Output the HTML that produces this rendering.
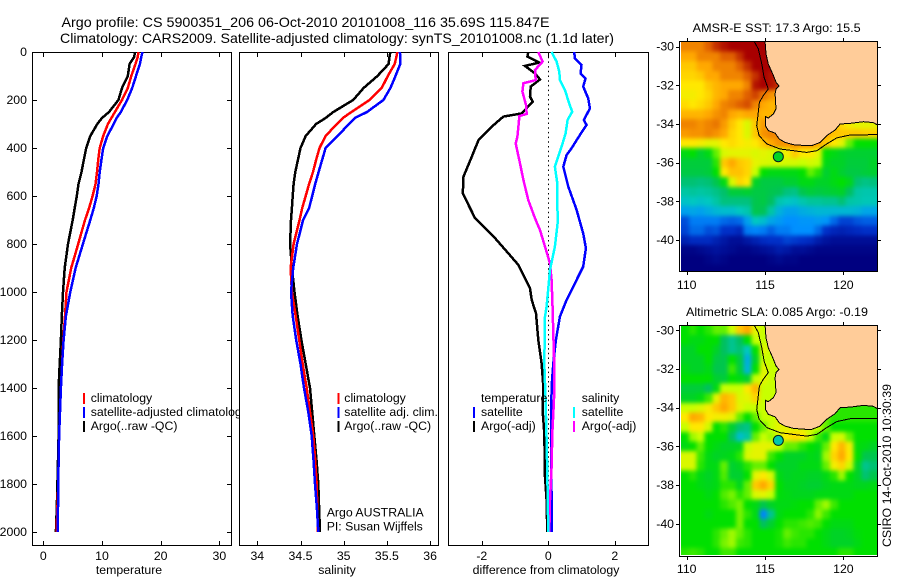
<!DOCTYPE html>
<html>
<head>
<meta charset="utf-8">
<title>Argo profile</title>
<style>
html,body{margin:0;padding:0;background:#fff;}
svg{display:block;font-family:"Liberation Sans",sans-serif;}
text{fill:#000;}
</style>
</head>
<body>
<svg id="chart" xmlns="http://www.w3.org/2000/svg" width="900" height="580" viewBox="0 0 900 580">
<defs>
<clipPath id="clip-sst"><rect x="681" y="42" width="197" height="229"/></clipPath>
<clipPath id="clip-sla"><rect x="681" y="326" width="197" height="229"/></clipPath>
<filter id="soften" filterUnits="userSpaceOnUse" x="650" y="20" width="250" height="560" color-interpolation-filters="sRGB"><feGaussianBlur stdDeviation="2.1"/></filter>
</defs>
</svg>
<script>
// ---------- shared depth data ----------
const depthTicks = [0,200,400,600,800,1000,1200,1400,1600,1800,2000];
const depthLevels = [0,20,50,100,150,200,250,275,300,350,400,450,500,550,600,650,700,800,900,1000,1100,1200,1300,1400,1500,1600,1700,1800,1900,2000];

// ---------- temperature panel ----------
const tempTicks = [0,10,20,30];
const tempClim = [16.2,16.1,15.7,15.0,14.4,13.4,12.2,11.6,11.0,10.2,9.6,9.35,9.15,8.9,8.4,7.8,7.1,5.95,4.75,3.95,3.7,3.4,3.2,3.0,2.85,2.7,2.6,2.55,2.4,2.25];
const tempSat = [16.9,16.7,16.45,15.8,15.15,14.3,13.2,12.5,12.0,10.9,10.2,9.9,9.6,9.4,9.1,8.6,8.0,6.75,5.5,4.6,3.85,3.45,3.2,3.0,2.85,2.7,2.6,2.55,2.5,2.45];
const tempArgo = [15.6,15.5,14.7,14.4,13.4,12.8,11.2,10.0,9.2,8.0,7.3,6.9,6.5,6.0,5.7,5.35,5.0,4.2,3.65,3.35,3.15,3.0,2.8,2.6,2.6,2.6,2.5,2.4,2.3,2.15];

// ---------- salinity panel ----------
const salTicks = [34,34.5,35,35.5,36];
const salClim = [35.62,35.61,35.59,35.51,35.44,35.3,35.09,34.99,34.92,34.79,34.72,34.68,34.645,34.6,34.56,34.52,34.49,34.42,34.385,34.4,34.445,34.485,34.525,34.572,34.61,34.648,34.67,34.687,34.695,34.70];
const salSat = [35.65,35.655,35.655,35.6,35.54,35.46,35.27,35.13,35.06,34.93,34.79,34.75,34.71,34.67,34.635,34.6,34.53,34.46,34.415,34.39,34.41,34.45,34.5,34.54,34.59,34.63,34.65,34.668,34.69,34.706];
const salArgo = [35.54,35.53,35.52,35.39,35.23,35.11,34.88,34.79,34.68,34.56,34.5,34.47,34.44,34.42,34.41,34.4,34.39,34.38,34.4,34.43,34.467,34.51,34.56,34.61,34.635,34.66,34.685,34.706,34.715,34.726];

// ---------- difference panel ----------
const diffTicks = [-2,0,2];
const diffTempSatDepth = [0,26,54,89,110,144,193,235,283,304,346,401,429,478,561,658,756,818,894,978,1033,1103,1200,1297,1394,1617,1867,2000];
const diffTempSat = [0.78,0.8,1.0,0.97,1.12,1.05,1.2,1.25,1.07,1.15,0.95,0.7,0.55,0.45,0.6,0.85,1.05,1.13,1.05,0.75,0.55,0.35,0.23,0.15,0.1,0.08,0.1,0.1];
const diffTempArgoDepth = [0,19,44,58,89,114,144,186,207,256,269,311,367,436,519,589,693,776,887,985,1033,1089,1200,1297,1394,1492,1590,1770,1867,2000];
const diffTempArgo = [-0.6,-0.63,-0.27,-0.7,-0.4,-0.25,-0.53,-0.55,-0.47,-0.8,-1.35,-1.7,-2.1,-2.3,-2.55,-2.57,-2.2,-1.6,-0.9,-0.55,-0.5,-0.37,-0.3,-0.2,-0.15,-0.17,-0.12,-0.1,-0.05,-0.03];
const diffSalSatDepth = [0,40,82,117,158,214,249,283,339,394,478,547,714,811,908,1061,1103,1214,1297,1450,1617,1756,2000];
const diffSalSat = [0.1,0.25,0.33,0.35,0.5,0.63,0.72,0.58,0.52,0.4,0.2,0.27,0.28,0.2,0.05,-0.05,-0.1,-0.11,-0.12,-0.08,-0.05,-0.03,0.0];
const diffSalArgoDepth = [0,40,75,117,130,165,221,258,267,311,353,381,464,533,617,693,742,811,881,950,1068,1172,1311,1450,1589,1728,1867,2000];
const diffSalArgo = [-0.3,-0.17,-0.4,-0.38,-0.75,-0.78,-0.67,-0.65,-0.87,-0.9,-0.93,-0.98,-0.85,-0.75,-0.6,-0.4,-0.25,-0.1,0.05,0.1,0.13,0.15,0.18,0.17,0.12,0.1,0.05,0.03];

// ---------- map data (values are colour-scale levels, 0 navy .. 10 dark red) ----------
const lonTicks = [110,115,120];
const latTicks = [30,32,34,36,38,40];
const sstLevels = [
[8.5,8.5,8.5,9,9.5,9.8,10,10,10,10,10,10,10],
[8,8,8.5,8.5,8.5,9,9,9.5,10,10,10,10,10],
[7.5,7.5,8,8,8.5,8.5,8.5,9,9.5,10,10,10,10],
[7.3,7.3,7.5,8,8,8.5,8.5,8.5,9,9.5,10,9.8,9.5],
[7,7,7,7.5,7.8,8,8,8,8.5,9.8,10,9.8,9.5],
[6.8,6.8,7,7.3,7.8,8,8.5,8.5,9,9.3,8.7,8.3,8],
[7.2,7,7.2,7.5,8,8.5,8.7,9,9.2,8.5,8,7.8,7.8],
[7.8,7.8,7.8,8,8.3,8.5,8,7.8,8,8,7.8,7.8,7.8],
[8.5,8.5,8.3,8.5,8.7,8.2,7.5,7,6.3,7.5,8.2,8,8,8,8,8,8,8,8,8,7.2,6.8,6.5,6.5,6.5],
[8.2,8.3,8.3,8.5,8.3,8,7.3,7,6.3,7.5,8.3,8.5,8.5,8.5,8.5,8.5,8.5,8,8,7.6,7.5,7.5,7.5,7.4,7.4],
[7,7,6.8,6.5,6.5,7,7.2,7,6.8,7,7.5,8,8.3,8.3,8.3,8.3,8.3,8,7.5,7,6.5,5.5,5,5,5],
[4.8,5,4.5,4.8,5.5,6.3,6.5,6.5,6.5,6.3,6.5,6.3,6,6.8,7.5,7,7,6.5,5,4.8,4.6,4.5,4.5,4.5,4.5],
[4.4,4.4,4.4,4.4,5.2,7.5,8,7.5,7.3,6.5,6.3,6.2,6.3,6.2,6.2,6,6.2,6,4.8,4.6,4.6,4.4,4.4,4.4,4.6],
[4.3,4.3,4.3,4.4,5,7,7.6,7.6,7.3,6,5,4.8,4.8,4.8,4.8,5,5.5,5.2,4.5,4.8,4.5,4.3,4.3,4.4,4.5],
[3.8,3.8,3.7,3.8,4.2,4.8,6.3,7.3,7,4.6,4.3,4.3,4.3,4.5,4.5,4.8,4.8,4.6,4.6,4.8,5,4.7,3.8,3.6,3.7],
[3.3,3.4,3.3,3.4,3.6,3.9,4.4,4.4,4.5,4.3,4.3,4.2,4.1,3.7,3.6,4.2,4.4,4.3,4.4,4.5,4.6,4,3.3,3.2,3.2],
[2.9,3,2.9,3,3.3,3.7,3.7,3.7,3.7,4.2,4.3,4,3.2,3,2.9,3.2,3.4,3.4,3.5,3.5,3.8,3.3,3.2,3.1,3.1],
[2.3,2.4,2.3,2.5,2.7,2.8,2.8,3,3.2,4.2,4.1,3.3,2.6,2.3,2.3,2.5,2.6,2.7,2.7,2.7,2.7,2.7,2.6,2.4,2.4],
[1.3,1.8,1.8,1.8,1.8,1.6,1.5,1.6,2.3,3,2.8,2.4,2.2,2,2,2.1,2.1,2.2,2.1,1.6,1.2,1.2,1.4,1.5,1.5],
[1.2,1.6,1.6,1.3,1.4,1,1,0.8,1.8,1.9,1.8,1.5,1.8,1.8,2,2,2,1.6,1,0.8,0.7,0.8,0.9,1,1],
[0.7,0.9,0.9,0.9,0.7,0.5,0.3,0.3,0.5,0.7,0.9,1,1,1.2,1.1,1,0.9,0.6,0.4,0.3,0.3,0.3,0.3,0.3,0.3],
[0.1,0.1,0.2,0.3,0.4,0.3,0.2,0.1,0.1,0.2,0.3,0.4,0.6,0.5,0.3,0.3,0.2,0.1,0.1,0.1,0.1,0.1,0.1,0.1,0.1],
[0,0,0,0.1,0.2,0.1,0,0,0,0,0,0.1,0.2,0.1,0.1,0,0,0,0,0,0,0,0,0,0],
[0,0,0,0,0,0,0,0,0,0,0,0,0,0,0,0,0,0,0,0,0,0,0,0,0]
];
const slaLevels = [
[5,5.2,5,5.2,5.5,5.5,6,7.5,8,6.5,6,6,6],
[5,4.8,4.8,5,5,4,3.5,4,5,6,6,6,6],
[4.6,4.6,5,5,4.6,4,3.5,3.8,3,5,6.5,6,6],
[4.6,4.6,4.6,5,4.3,4.2,5,4.3,2.5,4.6,6,6,6],
[4.8,4.6,4.6,4.8,4.2,4.2,5.3,4.4,2.6,5,6.5,6,6],
[5,5,5,5,4.5,4.4,5,4.8,4.5,6,6.5,6,6],
[4.4,4.4,4.4,4,4.8,6,6,6,7,7.8,6,6,6],
[4.6,4.6,4.8,5.3,6.5,7.8,7.5,6.3,6.5,7.3,6,6,6],
[6,6,6.3,6.8,7.5,8,7.5,6.5,6,6,6,6,6,6,6,6,6,6,5.5,5.3,5.2,5.2,5.2,5.2,5.2],
[7,8,7.8,7,6.8,6.8,6.5,5.5,5,5.5,6,6,6.3,6.3,6.3,6.3,6.3,6,5.5,5.2,5.2,5.2,5.2,5.2,5.2],
[6,7,7,6.2,5,5.2,4.5,3.8,3.6,5,5.5,6,6.5,6.5,6.5,6.5,6.2,6,5.5,5,5,5,5,5,5],
[5,5.8,6,5,5,5,4,2.8,3.3,5.5,6,5.8,6.3,7,7.2,7,6,5.3,4.8,6,6.2,5.5,5,5,5],
[4.8,5,5.5,5,4.8,4.6,4.6,4.7,6,6.5,6.5,6.5,6,5.5,5.5,5.2,5,4.8,5.5,7,7.8,6.8,4.9,4.8,4.6],
[6.3,6.3,5.3,4.8,4.6,4.7,4.8,5.2,6.3,6.5,6.5,5.3,5,4.6,4.6,4.6,4.8,4.7,5.8,7.3,8,7,5,4.2,4.2],
[6.3,6.3,5.2,4.8,4.8,5.5,4.5,4.7,5.2,5.5,5.5,5,4.6,4.6,4.6,4.8,4.8,4.8,5.5,6.8,7.3,6.2,4.6,3.5,3.8],
[5,5.2,4.8,4.6,4.8,5.4,4.5,4.5,5,6.5,7,6.3,4.8,4.6,4.7,4.7,4.6,4.6,4.8,5.2,5.8,5,4.6,3.8,4.2],
[5,5,4.8,4.7,4.8,5.2,5.2,4.7,5.5,7.5,8,7.3,5,4.7,4.7,4.6,4.5,4.5,4.7,4.8,4.8,4.8,4.7,4.7,4.8],
[5,5,5,4.8,5,5.4,5.6,5.2,5.5,6.3,6.5,6,4.9,4.8,4.7,4.7,4.7,4.8,4.8,4.8,4.8,4.8,5,5,5],
[5,5,5,5,5,5.2,5.4,5.6,5,4.8,4.2,4.6,4.8,4.8,4.9,5,5,5.5,5.8,5.3,5,5,5,5,5],
[5,5,5,4.8,5,5,5,5.6,5.2,4.8,1.9,3.5,4.8,5,5,5,5.2,5.7,5.3,5,5,5,5,5,5],
[5,5,5,5,5,5,5,5.6,5,5,4,4.5,5,5.2,5.2,5.3,5.4,5.3,5,4.8,4.8,4.8,5,5,5],
[5,5,5,5,5.2,5.5,5.8,5.5,5.2,5,5,5,5.1,5.5,5.3,5.2,5.2,5,4.8,4.6,4.6,4.7,4.9,5,5],
[5,5,5,5,5.2,5.6,5.8,5.3,5.2,5,5,5,5.1,5.3,5.2,5.2,5,5,4.8,4.6,4.6,4.6,4.8,5,5],
[5.2,5.3,5.2,5,5,5.3,5.3,5,5,5,5,5,5,5,5,5,5,5,5,5,5.2,5.2,5,5,5]
];
const coastLon = [115.0,115.06,115.21,115.49,115.7,115.89,115.7,115.64,115.7,115.53,115.21,115.02,115.02,115.21,115.64,115.91,116.28,116.81,117.66,117.98,118.51,118.94,119.47,119.79,120.43,121.28,121.91,122.25];
const coastLat = [29.75,30.38,30.9,31.41,31.84,32.03,32.19,32.45,33.22,33.48,33.69,33.62,34.09,34.34,34.47,34.78,34.95,35.07,35.12,35.12,34.95,34.6,34.31,34.0,33.97,33.88,33.93,34.09];
const isobathLon = [114.32,114.57,114.79,114.94,115.21,114.89,114.64,114.53,114.47,114.62,115.11,115.96,116.81,117.66,118.3,118.94,119.57,120.43,122.25];
const isobathLat = [29.75,30.12,30.9,31.59,32.19,32.53,32.88,33.66,34.09,34.6,35.03,35.29,35.38,35.47,35.38,35.03,34.72,34.57,34.55];
const argoLon = 115.847;
const argoLat = 35.69;
const sstArgoLevel = 4.6;
const slaArgoLevel = 3.2;
const colourStops = ['#000080','#0030c8','#0090ff','#00c8c0','#00c060','#00e000','#c8ff00','#ffe800','#ffa800','#e06000','#a80000'];

// ---------- helpers ----------
const NS = 'http://www.w3.org/2000/svg';
const svg = document.getElementById('chart');
const labelSize = 12.3;
function el(parent, tag, attrs, name) {
  const e = document.createElementNS(NS, tag);
  for (const k in attrs) e.setAttribute(k, attrs[k]);
  
  
  parent.appendChild(e);
  return e;
}
function txt(parent, x, y, s, size, name, extra) {
  const t = el(parent, 'text', Object.assign({x: x, y: y, 'font-size': size}, extra || {}), name);
  t.textContent = s;
  return t;
}
function hexRgb(h) { return [1,3,5].map(i => parseInt(h.substr(i,2),16)); }
function colour(level) {
  const v = Math.max(0, Math.min(10, level));
  const i = Math.min(9, Math.floor(v));
  const f = v - i;
  const a = hexRgb(colourStops[i]), b = hexRgb(colourStops[i+1]);
  return 'rgb(' + a.map((c,n) => Math.round(c + (b[n]-c)*f)).join(',') + ')';
}

// ---------- axis functions ----------
const yDepth = d => 52 + 0.24 * d;
const xTemp = t => 43.3 + 5.87 * t;
const xSal = s => 257.3 + 86.4 * (s - 34);
const xDiff = v => 548.3 + 33.25 * v;
const xLon = lon => 686.7 + 15.67 * (lon - 110);

function profile(g, depths, values, xf, color, name) {
  const pts = values.map((v,i) => xf(v).toFixed(1) + ',' + yDepth(depths[i]).toFixed(1)).join(' ');
  el(g, 'polyline', {points: pts, fill: 'none', stroke: color, 'stroke-width': 2.5, 'shape-rendering': 'crispEdges'}, name);
}
function panel(name, x0, x1, ticks, xf, yTicksSide, xTitle, titleX) {
  const g = el(svg, 'g', {}, name);
  el(g, 'rect', {x: x0 + .5, y: 52.5, width: x1 - x0, height: 493, fill: '#fff', stroke: '#000', 'stroke-width': 1, 'shape-rendering': 'crispEdges'}, name + '-frame');
  ticks.forEach(t => {
    const x = Math.round(xf(t)) + .5;
    el(g, 'line', {x1: x, x2: x, y1: 52, y2: 57, stroke: '#000', 'shape-rendering': 'crispEdges'}, name + '-top-tick');
    el(g, 'line', {x1: x, x2: x, y1: 541, y2: 546, stroke: '#000', 'shape-rendering': 'crispEdges'}, name + '-bottom-tick');
    txt(g, xf(t), 560, String(t), labelSize, name + '-x-tick-label', {'text-anchor': 'middle'});
  });
  txt(g, titleX, 574, xTitle, labelSize, name + '-x-axis-title', {'text-anchor': 'middle'});
  if (yTicksSide) {
    depthTicks.forEach(d => {
      const y = Math.round(yDepth(d)) + .5;
      el(g, 'line', {x1: x0, x2: x0 + 5, y1: y, y2: y, stroke: '#000', 'shape-rendering': 'crispEdges'}, name + '-left-tick');
      el(g, 'line', {x1: x1 - 4, x2: x1 + 1, y1: y, y2: y, stroke: '#000', 'shape-rendering': 'crispEdges'}, name + '-right-tick');
      txt(g, 27, yDepth(d) + 4, String(d), labelSize, name + '-y-tick-label', {'text-anchor': 'end'});
    });
  }
  return g;
}
function legend(g, x, tx, rows, prefix) {
  const ys = [393, 407, 421];
  rows.forEach((r,i) => {
    if (r.color) el(g, 'rect', {x: x, y: ys[i], width: 2, height: 11, fill: r.color}, prefix + '-legend-swatch');
    txt(g, tx, ys[i] + 9, r.label, labelSize, prefix + '-legend-entry');
  });
}
function map(name, clipId, top, bottom, base, grid, argoLevel, title, titleX, titleW, titleY, labelY) {
  const latY = lat => base + 19.35 * (lat - 30);
  const g = el(svg, 'g', {}, name);
  const clip = el(g, 'g', {'clip-path': 'url(#' + clipId + ')'}, name + '-heatmap-clip');
  const cells = el(clip, 'g', {filter: 'url(#soften)'}, name + '-heatmap');
  grid.forEach((row, j) => {
    row.forEach((v, i) => {
      const lon = 109.64 + 0.5 * i, lat = 29.75 + 0.5 * j;
      let x = xLon(lon), y = latY(lat), w = 8.3, h = 10.1;
      // outer cells run past the frame so softening does not fade at the edges
      if (i === 0) { x -= 12; w += 12; }
      if (i === row.length - 1) { w += 130; }
      if (j === 0) { y -= 12; h += 12; }
      if (j === grid.length - 1) { h += 14; }
      el(cells, 'rect', {x: x.toFixed(2), y: y.toFixed(2), width: w, height: h, fill: colour(v), 'shape-rendering': 'crispEdges'}, name + '-cell');
    });
  });
  const clipped = el(g, 'g', {'clip-path': 'url(#' + clipId + ')'}, name + '-geography');
  const coastPts = coastLon.map((l,i) => xLon(l).toFixed(1) + ',' + latY(coastLat[i]).toFixed(1)).join(' ');
  el(clipped, 'polygon', {points: coastPts + ' ' + xLon(122.25).toFixed(1) + ',' + latY(29.75).toFixed(1), fill: '#ffcc99', stroke: 'none'}, name + '-land');
  el(clipped, 'polyline', {points: coastPts, fill: 'none', stroke: '#000', 'stroke-width': 1, 'shape-rendering': 'crispEdges'}, name + '-coastline');
  const isoPts = isobathLon.map((l,i) => xLon(l).toFixed(1) + ',' + latY(isobathLat[i]).toFixed(1)).join(' ');
  el(clipped, 'polyline', {points: isoPts, fill: 'none', stroke: '#000', 'stroke-width': 1, 'shape-rendering': 'crispEdges'}, name + '-isobath');
  el(g, 'circle', {cx: xLon(argoLon), cy: latY(argoLat), r: 5, fill: colour(argoLevel), stroke: '#002020', 'stroke-width': 1}, name + '-argo-marker');
  el(g, 'rect', {x: 679.5, y: top + .5, width: 198, height: bottom - top, fill: 'none', stroke: '#000', 'shape-rendering': 'crispEdges'}, name + '-frame');
  lonTicks.forEach(l => {
    const x = Math.round(xLon(l)) + .5;
    el(g, 'line', {x1: x, x2: x, y1: top - 3, y2: top, stroke: '#000', 'shape-rendering': 'crispEdges'}, name + '-top-tick');
    el(g, 'line', {x1: x, x2: x, y1: bottom + 1, y2: bottom + 4, stroke: '#000', 'shape-rendering': 'crispEdges'}, name + '-bottom-tick');
    txt(g, xLon(l), labelY, String(l), labelSize, name + '-lon-tick-label', {'text-anchor': 'middle'});
  });
  latTicks.forEach(l => {
    const y = Math.round(latY(l)) + .5;
    el(g, 'line', {x1: 676, x2: 679, y1: y, y2: y, stroke: '#000', 'shape-rendering': 'crispEdges'}, name + '-left-tick');
    el(g, 'line', {x1: 878, x2: 881, y1: y, y2: y, stroke: '#000', 'shape-rendering': 'crispEdges'}, name + '-right-tick');
    txt(g, 674, latY(l) + 4, '-' + l, labelSize, name + '-lat-tick-label', {'text-anchor': 'end'});
  });
  txt(g, titleX, titleY, title, 12, name + '-title', {textLength: titleW, lengthAdjust: 'spacingAndGlyphs'});
}

// ---------- main title ----------
txt(svg, 61.5, 27, 'Argo profile: CS 5900351_206 06-Oct-2010 20101008_116 35.69S 115.847E', 14, 'figure-title-line-1', {textLength: 488, lengthAdjust: 'spacingAndGlyphs'});
txt(svg, 60, 43, 'Climatology: CARS2009. Satellite-adjusted climatology: synTS_20101008.nc (1.1d later)', 14, 'figure-title-line-2', {textLength: 554, lengthAdjust: 'spacingAndGlyphs'});

// ---------- temperature panel ----------
const p1 = panel('temperature-panel', 32, 231, tempTicks, xTemp, true, 'temperature', 129);
profile(p1, depthLevels, tempArgo, xTemp, '#000', 'temperature-argo-line');
profile(p1, depthLevels, tempClim, xTemp, '#f00', 'temperature-climatology-line');
profile(p1, depthLevels, tempSat, xTemp, '#00f', 'temperature-satellite-line');
legend(p1, 83, 90.7, [{color:'#f00',label:'climatology'},{color:'#00f',label:'satellite-adjusted climatology'},{color:'#000',label:'Argo(..raw -QC)'}], 'temperature');

// ---------- salinity panel ----------
const p2 = panel('salinity-panel', 239, 438, salTicks, xSal, false, 'salinity', 337);
profile(p2, depthLevels, salArgo, xSal, '#000', 'salinity-argo-line');
profile(p2, depthLevels, salClim, xSal, '#f00', 'salinity-climatology-line');
profile(p2, depthLevels, salSat, xSal, '#00f', 'salinity-satellite-line');
legend(p2, 337.5, 344.3, [{color:'#f00',label:'climatology'},{color:'#00f',label:'satellite adj. clim.'},{color:'#000',label:'Argo(..raw -QC)'}], 'salinity');
txt(p2, 326.7, 516.7, 'Argo AUSTRALIA', labelSize, 'argo-program-label');
txt(p2, 326.7, 530.7, 'PI: Susan Wijffels', labelSize, 'principal-investigator-label');

// ---------- difference panel ----------
const p3 = panel('difference-panel', 448, 648, diffTicks, xDiff, false, 'difference from climatology', 546);
el(p3, 'line', {x1: 548.5, x2: 548.5, y1: 52, y2: 532, stroke: '#000', 'stroke-width': 1, 'stroke-dasharray': '1.5 3.2'}, 'zero-reference-line');
profile(p3, diffTempArgoDepth, diffTempArgo, xDiff, '#000', 'difference-temperature-argo-line');
profile(p3, diffTempSatDepth, diffTempSat, xDiff, '#00f', 'difference-temperature-satellite-line');
profile(p3, diffSalArgoDepth, diffSalArgo, xDiff, '#f0f', 'difference-salinity-argo-line');
profile(p3, diffSalSatDepth, diffSalSat, xDiff, '#0ff', 'difference-salinity-satellite-line');
legend(p3, 473, 481, [{label:'temperature'},{color:'#00f',label:'satellite'},{color:'#000',label:'Argo(-adj)'}], 'difference-temperature');
legend(p3, 573, 581.7, [{label:'salinity'},{color:'#0ff',label:'satellite'},{color:'#f0f',label:'Argo(-adj)'}], 'difference-salinity');

// ---------- maps ----------
map('sst-map', 'clip-sst', 41, 271, 46.6, sstLevels, sstArgoLevel, 'AMSR-E SST: 17.3 Argo: 15.5', 692.7, 168, 32, 289);
map('sla-map', 'clip-sla', 325, 556, 330.3, slaLevels, slaArgoLevel, 'Altimetric SLA: 0.085 Argo: -0.19', 686, 182, 316, 573);
txt(svg, 0, 0, 'CSIRO 14-Oct-2010 10:30:39', 12, 'timestamp-label', {transform: 'translate(891,547) rotate(-90)', textLength: 163, lengthAdjust: 'spacingAndGlyphs'});
</script>
</body>
</html>
